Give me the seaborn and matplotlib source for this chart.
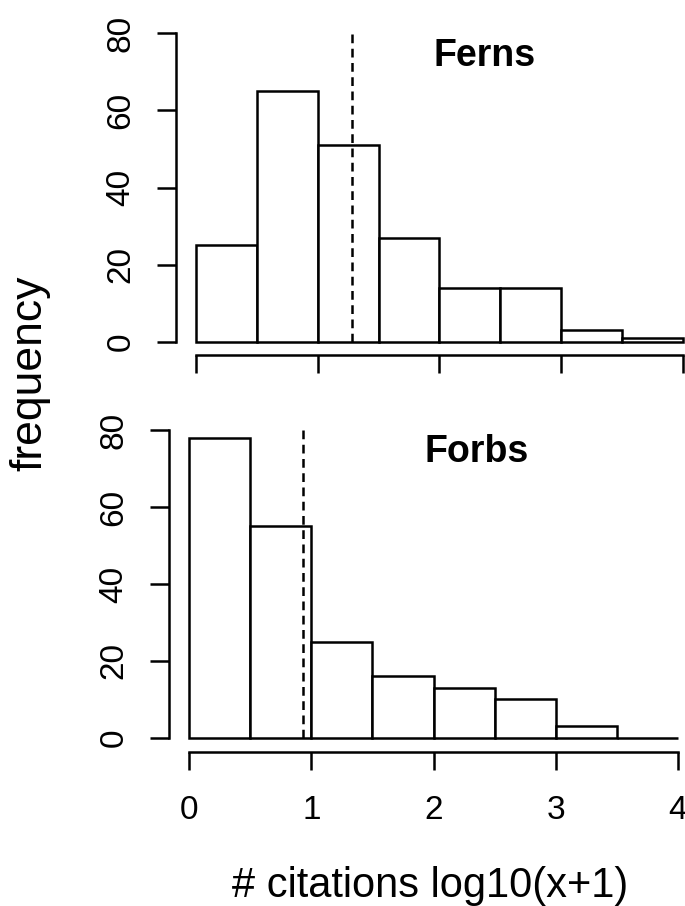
import pandas as pd
import matplotlib
matplotlib.use('Agg')
import matplotlib.pyplot as plt
import seaborn as sns

# Werte
bin_edges = [0, 0.5, 1, 1.5, 2, 2.5, 3, 3.5, 4]
ferns_counts = [25, 65, 51, 27, 14, 14, 3, 1]
forbs_counts = [78, 55, 25, 16, 13, 10, 3, 0]
ferns_mean = 1.28
forbs_mean = 0.93
x_ticks = [0, 1, 2, 3, 4]
y_ticks = [0, 20, 40, 60, 80]

sns.set_style('ticks')
plt.rcParams['font.family'] = ['Liberation Sans', 'DejaVu Sans']
plt.rcParams.update({'text.color': 'black', 'axes.edgecolor': 'black',
                     'xtick.color': 'black', 'ytick.color': 'black'})

mids = [(a + b) / 2 for a, b in zip(bin_edges[:-1], bin_edges[1:])]
df = pd.DataFrame({
    'mid': mids * 2,
    'count': ferns_counts + forbs_counts,
    'group': ['Ferns'] * len(mids) + ['Forbs'] * len(mids),
})

lw = 1.8
fig = plt.figure(figsize=(6.85, 9.06), dpi=100)
ax1 = fig.add_axes([0.2569, 0.6082, 0.7431, 0.3587])
ax2 = fig.add_axes([0.2467, 0.1700, 0.7533, 0.3609])

panels = [
    (ax1, 'Ferns', ferns_mean, (-0.164, 4.016), (-3.37, 80.8), (2.37, 74.0), False),
    (ax2, 'Forbs', forbs_mean, (-0.164, 4.057), (-3.64, 81.3), (2.35, 74.3), True),
]

for ax, name, mean, xlim, ylim, txt, show_x in panels:
    sns.histplot(data=df[df['group'] == name], x='mid', weights='count',
                 bins=bin_edges, color='white', edgecolor='black',
                 linewidth=lw, alpha=1, ax=ax)
    ax.plot([mean, mean], [0, 80], color='black', lw=lw, ls=(0, (3.5, 2.2)))
    ax.text(txt[0], txt[1], name, ha='center', va='center',
            fontsize=27, fontweight='bold')

    ax.set_xlim(*xlim)
    ax.set_ylim(*ylim)
    ax.set_xlabel('')
    ax.set_ylabel('')
    for s in ['top', 'right']:
        ax.spines[s].set_visible(False)
    ax.spines['left'].set_bounds(0, 80)
    ax.spines['bottom'].set_bounds(0, 4)
    ax.spines['left'].set_linewidth(lw)
    ax.spines['bottom'].set_linewidth(lw)

    ax.set_yticks(y_ticks)
    ax.set_yticklabels([str(v) for v in y_ticks], rotation=90, va='center')
    ax.set_xticks(x_ticks)
    ax.set_xticklabels([str(v) for v in x_ticks])
    ax.tick_params(axis='y', direction='out', length=13.5, width=lw,
                   labelsize=24, pad=15)
    ax.tick_params(axis='x', direction='out', length=13, width=lw,
                   labelsize=24, pad=18, labelbottom=show_x)

fig.text(30 / 685, 1 - 373 / 906, 'frequency', rotation=90,
         ha='center', va='center', fontsize=32)
fig.text(430 / 685, 1 - 897 / 906, '# citations log10(x+1)',
         ha='center', va='baseline', fontsize=30)

fig.savefig('out.png', dpi=100, facecolor='white')
